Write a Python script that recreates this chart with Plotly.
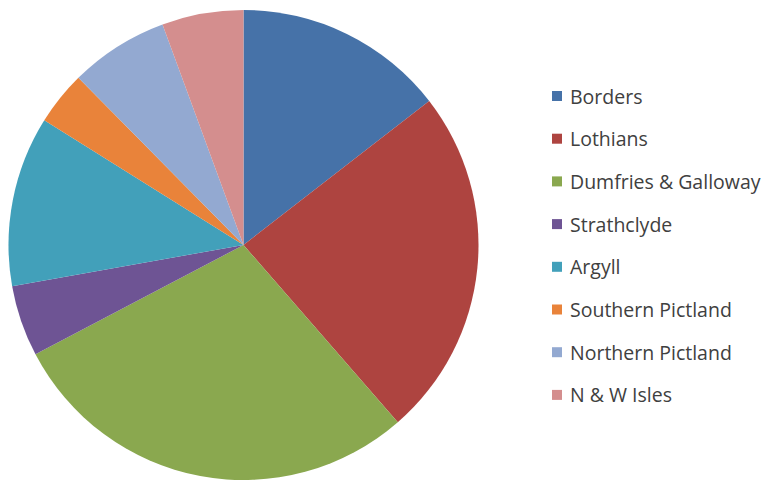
import plotly.graph_objects as go

labels = ["Borders", "Lothians", "Dumfries & Galloway", "Strathclyde", "Argyll",
          "Southern Pictland", "Northern Pictland", "N & W Isles"]
values = [14.5, 24.1, 28.7, 4.9, 11.7, 3.7, 6.8, 5.6]
colors = ["#4672A8", "#AE4440", "#8AA84F", "#6E5494", "#42A0BA",
          "#E9833A", "#93A9D1", "#D48E8E"]

W, H = 777, 481
fig = go.Figure(go.Pie(
    labels=labels, values=values, sort=False, direction="clockwise", rotation=0,
    marker=dict(colors=colors, line=dict(width=0)),
    textinfo="none", hoverinfo="label+percent", showlegend=False,
    domain=dict(x=[(243.5 - 235) / W, (243.5 + 235) / W],
                y=[(236 - 235) / H, (236 + 235) / H]),
))

# custom legend (Excel-like spacing)
y0, dy = 96, 42.7
shapes, annotations = [], []
for i, (lab, col) in enumerate(zip(labels, colors)):
    yc = y0 + i * dy
    shapes.append(dict(type="rect", xref="paper", yref="paper",
                       x0=552 / W, x1=562 / W,
                       y0=1 - (yc + 5) / H, y1=1 - (yc - 5) / H,
                       fillcolor=col, line=dict(width=0)))
    annotations.append(dict(text=lab, xref="paper", yref="paper",
                            x=568 / W, y=1 - yc / H, xanchor="left", yanchor="middle",
                            showarrow=False,
                            font=dict(family="Open Sans", size=19.5, color="#404040")))

fig.update_layout(width=W, height=H, margin=dict(l=0, r=0, t=0, b=0),
                  paper_bgcolor="white", plot_bgcolor="white",
                  shapes=shapes, annotations=annotations)
fig.write_html("out.html", config={"displayModeBar": False},
               post_script="document.body.style.margin='0';")
